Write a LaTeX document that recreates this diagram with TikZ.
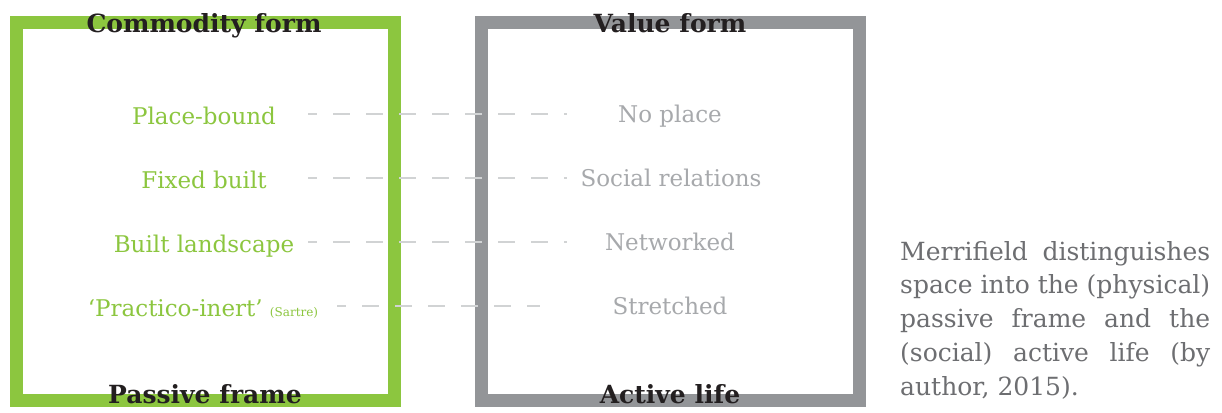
\documentclass[tikz,border=0pt]{standalone}
\usepackage{fontspec}
\setmainfont{DejaVu Serif}
\definecolor{frgreen}{HTML}{8CC63F}
\definecolor{frgray}{HTML}{939598}
\definecolor{txgray}{HTML}{A7A9AC}
\definecolor{capgray}{HTML}{6D6E71}
\definecolor{dashgray}{HTML}{D1D3D4}
\definecolor{titledark}{HTML}{231F20}
\begin{document}
\begin{tikzpicture}[x=1pt,y=-1pt,
  frame/.style={line width=13pt},
  title/.style={anchor=base,inner sep=0pt,text=titledark,font=\fontsize{25}{29}\selectfont\bfseries},
  lefttext/.style={anchor=base,inner sep=0pt,text=frgreen,font=\fontsize{23}{27}\selectfont},
  righttext/.style={anchor=base,inner sep=0pt,text=txgray,font=\fontsize{23}{27}\selectfont},
  link/.style={draw=dashgray,line width=2.4pt,dash pattern=on 16.5pt off 16.5pt,dash phase=8pt},
  caption/.style={anchor=base west,inner sep=0pt,text=capgray,font=\fontsize{25}{33.8}\selectfont}]
\useasboundingbox (0,0) rectangle (1222,412);
\fill[white] (0,0) rectangle (1222,412);
% frames
\draw[frame,draw=frgreen] (16.5,23) rectangle (394.5,400.5);
\draw[frame,draw=frgray] (481.5,23) rectangle (859.5,400.5);
% dashed links
\coordinate (l1) at (308,114); \coordinate (r1) at (567,114);
\coordinate (l2) at (308,178); \coordinate (r2) at (567,178);
\coordinate (l3) at (308,242); \coordinate (r3) at (567,242);
\coordinate (l4) at (337,306); \coordinate (r4) at (540,306);
\draw[link] (l1) -- (r1);
\draw[link] (l2) -- (r2);
\draw[link] (l3) -- (r3);
\draw[link] (l4) -- (r4);
% titles
\node[title] (ct) at (204,33) {Commodity form};
\node[title] (vt) at (670,33) {Value form};
\node[title] (pt) at (205,403) {Passive frame};
\node[title] (at) at (670,403) {Active life};
% left items
\node[lefttext] (a1) at (204,124) {Place-bound};
\node[lefttext] (a2) at (204,188) {Fixed built};
\node[lefttext] (a3) at (204,252) {Built landscape};
\node[lefttext] (a4) at (203,316) {‘Practico-inert’ {\fontsize{12}{14}\selectfont(Sartre)}};
% right items
\node[righttext] (b1) at (670,122) {No place};
\node[righttext] (b2) at (671,186) {Social relations};
\node[righttext] (b3) at (670,250) {Networked};
\node[righttext] (b4) at (670,314) {Stretched};
% caption
\node[caption] (cap) at (900,260) {\parbox[t]{310pt}{\hbadness=10000\hyphenpenalty=10000\exhyphenpenalty=10000\emergencystretch=0pt
Merrifield distinguishes\linebreak space into the (physical)\linebreak passive frame and the\linebreak (social) active life (by\linebreak author, 2015).}};
\end{tikzpicture}
\end{document}
